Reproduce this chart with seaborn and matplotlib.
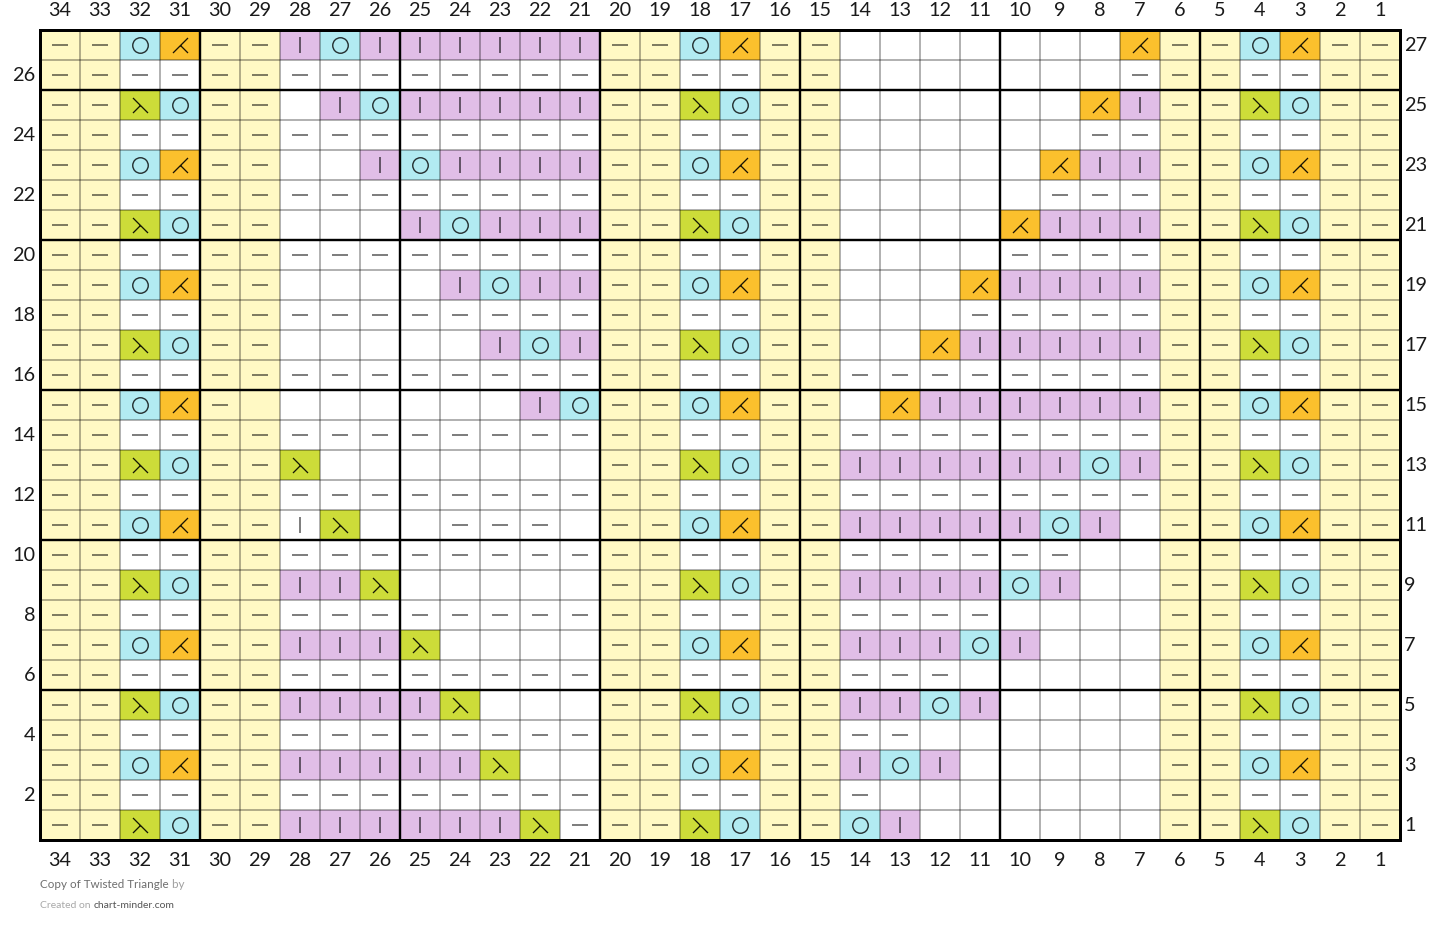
import numpy as np
import pandas as pd
import matplotlib
matplotlib.use("Agg")
import matplotlib.pyplot as plt
from matplotlib.colors import ListedColormap
from matplotlib.path import Path
from matplotlib.transforms import ScaledTranslation
import seaborn as sns

sns.set_theme(style="white")
plt.rcParams["font.family"] = ["Lato", "DejaVu Sans"]

# Column numbers, left to right, and row numbers, top to bottom
col_labels = list(range(34, 0, -1))
row_labels = list(range(27, 0, -1))

# Stitch codes: Y purl on yellow, d purl on white, . empty, p knit on purple,
# b knit on white, o yarn over, k orange decrease, g green decrease
edge = "YY"
rep_odd_a = "ok"
rep_odd_b = "go"
rep_even = "dd"

panel_a = ["popppppp", "dddddddd", ".poppppp", "dddddddd", "..popppp",
           "dddddddd", "...poppp", "dddddddd", "....popp", "dddddddd",
           ".....pop", "dddddddd", "......po", "dddddddd", "g.......",
           "dddddddd", "bg..ddd.", "dddddddd", "ppg.....", "dddddddd",
           "pppg....", "dddddddd", "ppppg...", "dddddddd", "pppppg..",
           "dddddddd", "ppppppgd"]
panel_b = [".......k", ".......d", "......kp", "......dd", ".....kpp",
           ".....ddd", "....kppp", "....dddd", "...kpppp", "...ddddd",
           "..kppppp", "dddddddd", ".kpppppp", "dddddddd", "ppppppop",
           "dddddddd", "pppppop.", "dddddd..", "ppppop..", "dddd....",
           "pppop...", "ddd.....", "ppop....", "dd......", "pop.....",
           "d.......", "op......"]
yellow_gap = {(15, 29)}  # the yellow cell with no dash

cell_colors = {".": "#ffffff", "d": "#ffffff", "b": "#ffffff", "Y": "#fff9c4",
               "p": "#e1bee7", "o": "#b2ebf2", "k": "#fbc02d", "g": "#cddc39"}
codes = list(cell_colors)

rows = []
for i, rn in enumerate(row_labels):
    if rn % 2 == 0:
        rep = rep_even
    else:
        rep = rep_odd_a if (rn - 3) % 4 == 0 else rep_odd_b
    rows.append(list(edge + rep + edge + panel_a[i] + edge + rep + edge
                     + panel_b[i] + edge + rep + edge))

grid = pd.DataFrame(rows, index=row_labels, columns=col_labels)
numeric = grid.map(codes.index)

fig = plt.figure(figsize=(14.4, 9.33), dpi=100)
fig.patch.set_facecolor("white")
W, H = 1440, 933
PX = 72 / 100
ax = fig.add_axes([40 / W, 1 - 840 / H, 1360 / W, 810 / H])

sns.heatmap(numeric, ax=ax, cmap=ListedColormap([cell_colors[c] for c in codes]),
            vmin=-0.5, vmax=len(codes) - 0.5, cbar=False, linewidths=0,
            xticklabels=False, yticklabels=False, square=False)

# Thin cell rules
ax.vlines(np.arange(1, len(col_labels)), 0, len(row_labels), color="black",
          alpha=0.40, lw=1.5 * PX, zorder=3, snap=False)
ax.hlines(np.arange(1, len(row_labels)), 0, len(col_labels), color="black",
          alpha=0.40, lw=1.5 * PX, zorder=3, snap=False)

# Stitch symbols as unit markers
dash = Path([(-1, 0), (1, 0)], [Path.MOVETO, Path.LINETO])
bar = Path([(0, -1), (0, 1)], [Path.MOVETO, Path.LINETO])
circle = Path.unit_circle()
orange = Path([(-1, -1), (1, 1), (0, 0), (1, -1)],
              [Path.MOVETO, Path.LINETO, Path.MOVETO, Path.LINETO])
green = Path([(-1, 1), (1, -1), (0, 0), (-1, -1)],
             [Path.MOVETO, Path.LINETO, Path.MOVETO, Path.LINETO])

symbols = {
    "Y": (dash, 15.5, (0, 0, 0, 0.5), 2.0),
    "d": (dash, 15.5, (0, 0, 0, 0.5), 2.0),
    "p": (bar, 15.5, (0, 0, 0, 0.55), 2.0),
    "b": (bar, 15.5, (0, 0, 0, 0.5), 2.0),
    "o": (circle, 15.5, (0, 0, 0, 0.8), 1.4),
    "k": (orange, 15, (0, 0, 0, 0.9), 1.3),
    "g": (green, 15, (0, 0, 0, 0.9), 1.3),
}
for code, (path, size, color, lw) in symbols.items():
    ys, xs = np.nonzero(grid.values == code)
    keep = np.array([(row_labels[y], col_labels[x]) not in yellow_gap
                     for x, y in zip(xs, ys)])
    ax.plot(xs[keep] + 0.5, ys[keep] + 0.5, linestyle="none", marker=path,
            markersize=size * PX, markerfacecolor="none", markeredgecolor=color,
            markeredgewidth=lw * PX, zorder=4)

# Heavy rules every five stitches and five rows
heavy_cols = [c for c in col_labels if c % 5 == 0]
heavy_rows = [r for r in row_labels if r % 5 == 0]
for c in heavy_cols:
    ax.axvline(col_labels.index(c), color="black", lw=2.4 * PX, zorder=5)
for r in heavy_rows:
    ax.axhline(row_labels.index(r), color="black", lw=2.4 * PX, zorder=5)

for s in ax.spines.values():
    s.set_visible(True)
    s.set_color("black")
    s.set_linewidth(3 * PX)
    s.set_zorder(6)

# Tick labels on all four sides
LABEL = 14.3
ax.set_xticks(np.arange(len(col_labels)) + 0.5)
ax.set_xticklabels(col_labels, fontsize=LABEL, color="#1a1a1a")
ax.tick_params(axis="x", top=True, labeltop=True, bottom=True, labelbottom=True,
               length=0, pad=8, rotation=0)
even_pos = [i + 0.5 for i, r in enumerate(row_labels) if r % 2 == 0]
odd_pos = [i + 0.5 for i, r in enumerate(row_labels) if r % 2 == 1]
ax.set_yticks(even_pos)
ax.set_yticklabels([r for r in row_labels if r % 2 == 0], fontsize=LABEL,
                   color="#1a1a1a", rotation=0)
ax.tick_params(axis="y", left=True, length=0, pad=3.5, labelleft=True)
axr = ax.twinx()
axr.set_ylim(ax.get_ylim())
axr.set_yticks(odd_pos)
axr.set_yticklabels([r for r in row_labels if r % 2 == 1], fontsize=LABEL,
                    color="#1a1a1a", rotation=0)
axr.tick_params(axis="y", length=0, pad=3)
axr.grid(False)
for s in axr.spines.values():
    s.set_visible(False)

# Small pixel nudges of the tick labels
up_1px = ScaledTranslation(0, 1 / 100, fig.dpi_scale_trans)
down_1px = ScaledTranslation(0, -1 / 100, fig.dpi_scale_trans)
for lab in ax.get_yticklabels() + axr.get_yticklabels():
    lab.set_transform(lab.get_transform() + up_1px)
for tick in ax.xaxis.get_major_ticks():
    tick.label1.set_transform(tick.label1.get_transform() + down_1px)

# Footer
t1 = fig.text(40 / W, 1 - 885 / H, "Copy of Twisted Triangle", fontsize=8.4, color="#6e6e6e", va="center")
fig.canvas.draw()
ax.annotate(" by", xy=(1, 0), xycoords=t1, va="bottom", fontsize=8.4, color="#a0a0a0")
t2 = fig.text(40 / W, 1 - 905 / H, "Created on ", fontsize=7.5, color="#a8a8a8", va="center")
ax.annotate("chart-minder.com", xy=(1, 0), xycoords=t2, va="bottom", fontsize=7.5, color="#555555")

fig.savefig("out.png", dpi=100, facecolor="white")
